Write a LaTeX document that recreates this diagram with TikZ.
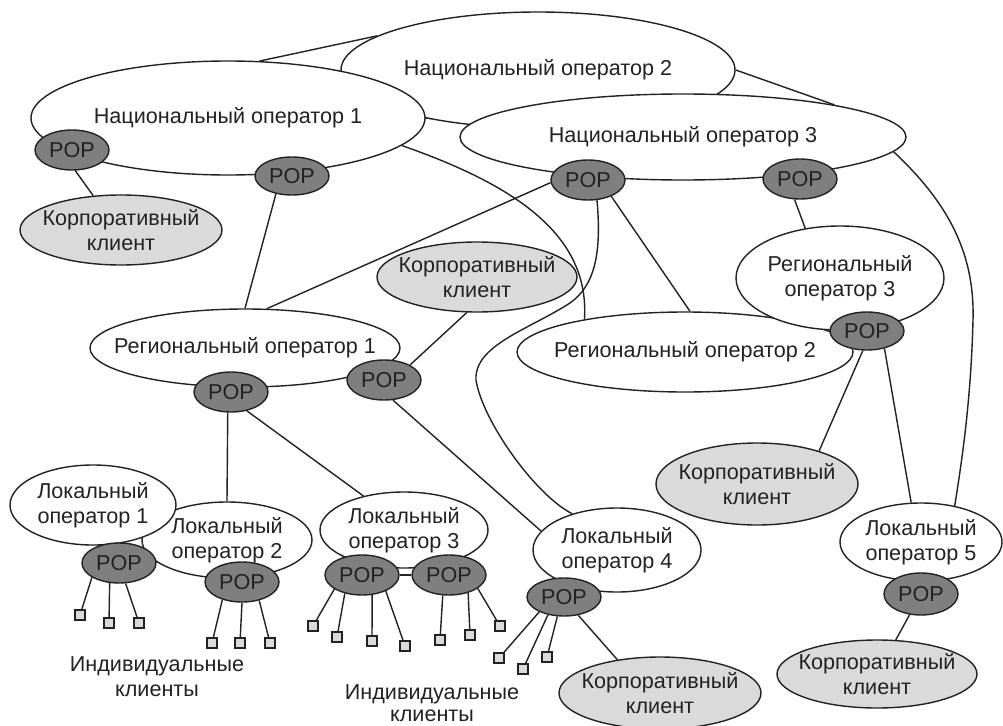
\documentclass[tikz,border=0pt]{standalone}
\usepackage{fontspec}
\setmainfont{Liberation Sans}
\usetikzlibrary{shapes.geometric,backgrounds}
\definecolor{popfill}{HTML}{7F7F7F}
\definecolor{corpfill}{HTML}{DADADA}
\definecolor{ink}{HTML}{222222}
\begin{document}
\begin{tikzpicture}[x=1pt,y=-1pt,
  font=\fontsize{21.6}{25}\selectfont,
  base/.style={ellipse, draw=ink, line width=1.4pt, inner sep=0pt, text=ink},
  op/.style={base, fill=white},
  corp/.style={base, fill=corpfill},
  pop/.style={base, fill=popfill, minimum width=74, minimum height=40},
  txt/.style={align=center, text=ink, inner sep=0pt},
  conn/.style={draw=ink, line width=1.4pt},
  sq/.style={rectangle, draw=ink, fill=corpfill, line width=1.8pt, minimum size=10, inner sep=0pt}]
\useasboundingbox (0,0) rectangle (1003,725);

% national operators
\node[op, minimum width=394, minimum height=116, label={[txt]center:Национальный оператор 2}] (no2) at (538,70) {};
\node[op, minimum width=394, minimum height=114, label={[txt]center:Национальный оператор 1}] (no1) at (228,118) {};
\node[op, minimum width=446, minimum height=86, label={[txt]center:Национальный оператор 3}] (no3) at (683,137) {};
\node[pop] (popN1a) at (72,150) {POP};
\node[pop, minimum height=38] (popN1b) at (292,176) {POP};
\node[pop] (popN3a) at (588,180) {POP};
\node[pop] (popN3b) at (800,179) {POP};
\node[corp, minimum width=202, minimum height=70, label={[txt]center:Корпоративный\\клиент}] (corp1) at (121,230) {};
\node[corp, minimum width=200, minimum height=70, label={[txt]center:Корпоративный\\клиент}] (corp2) at (477,277) {};

% regional operators
\node[op, minimum width=336, minimum height=80, label={[txt]center:Региональный оператор 2}] (r2) at (685,352) {};
\node[op, minimum width=208, minimum height=104, label={[txt]center:Региональный\\оператор 3}] (r3) at (840,278) {};
\node[op, minimum width=310, minimum height=78, label={[txt]center:Региональный оператор 1}] (r1) at (245,348) {};
\node[pop] (popR1a) at (231,392) {POP};
\node[pop] (popR1b) at (384,380) {POP};
\node[pop, minimum height=38] (popR3) at (867,331) {POP};
\node[corp, minimum width=202, minimum height=82, label={[txt]center:Корпоративный\\клиент}] (corp3) at (757,484) {};

% local operators
\node[op, minimum width=170, minimum height=76, label={[txt]center:Локальный\\оператор 2}] (l2) at (227,540) {};
\node[op, minimum width=166, minimum height=80, label={[txt]center:Локальный\\оператор 1}] (l1) at (93,505) {};
\node[op, minimum width=168, minimum height=76, label={[txt]center:Локальный\\оператор 3}] (l3) at (404,530) {};
\node[op, minimum width=168, minimum height=84, label={[txt]center:Локальный\\оператор 4}] (l4) at (617,550) {};
\node[op, minimum width=162, minimum height=78, label={[txt]center:Локальный\\оператор 5}] (l5) at (921,542) {};
\node[pop] (popL1) at (119,563) {POP};
\node[pop] (popL2) at (242,582) {POP};
\node[pop] (popL3a) at (362,575) {POP};
\node[pop] (popL3b) at (449,575) {POP};
\node[pop, minimum height=38] (popL4) at (564,597) {POP};
\node[pop, minimum height=42] (popL5) at (921,594) {POP};
\node[corp, minimum width=202, minimum height=72, label={[txt]center:Корпоративный\\клиент}] (corp4) at (660,693) {};
\node[corp, minimum width=200, minimum height=68, label={[txt]center:Корпоративный\\клиент}] (corp5) at (877,674) {};

% individual clients
\node[sq] (s11) at (80,615) {};
\node[sq] (s12) at (109,623) {};
\node[sq] (s13) at (139,623) {};
\node[sq] (s21) at (212,643) {};
\node[sq] (s22) at (240,643) {};
\node[sq] (s23) at (270,643) {};
\node[sq] (s31) at (313,626) {};
\node[sq] (s32) at (337,637) {};
\node[sq] (s33) at (372,641) {};
\node[sq] (s34) at (405,646) {};
\node[sq] (s35) at (440,640) {};
\node[sq] (s36) at (470,635) {};
\node[sq] (s37) at (500,626) {};
\node[sq] (s41) at (499,658) {};
\node[sq] (s42) at (523,669) {};
\node[sq] (s43) at (547,657) {};
\node[txt] (ind1) at (157,677) {Индивидуальные\\клиенты};
\node[txt, font=\fontsize{21.6}{22}\selectfont] (ind2) at (432,703) {Индивидуальные\\клиенты};

\begin{scope}[on background layer]
\fill[white] (0,0) rectangle (1003,725);
\draw[conn] (no1.61) -- (no2.168);
\draw[conn] (no1.east) -- (no3.176);
\draw[conn] (no2.east) -- (no3.12);
\draw[conn] (no1.351) .. controls (515,185) and (590,235) .. (r2.162);
\draw[conn] (popN3a.184) -- (r1.61);
\draw[conn] (popN3a.294) .. controls (602,255) and (594,286) .. (570,303)
   .. controls (530,329) and (474,345) .. (476,380)
   .. controls (482,420) and (535,495) .. (l4.141);
\draw[conn] (popN3a.325) -- (r2.83);
\draw[conn] (popN3b.255) -- (r3.125);
\draw[conn] (no3.356) .. controls (945,200) and (975,250) .. (973,320)
   .. controls (971,400) and (962,460) .. (l5.47);
\draw[conn] (popR3.315) -- (l5.104);
\draw[conn] (popR3.258) -- (corp3.28);
\draw[conn] (popN1b.228) -- (r1.north);
\draw[conn] (popN1a.279) -- (corp1.129);
\draw[conn] (corp2.254) -- (popR1b.30);
\draw[conn] (popR1b.294) -- (l4.166);
\draw[conn] (popR1a.261) -- (l2.north);
\draw[conn] (popR1a.310) -- (l3.140);
\draw[conn] (popL3a) -- (popL3b);
\draw[conn] (popL1.208) -- (s11);
\draw[conn] (popL1.245) -- (s12);
\draw[conn] (popL1.288) -- (s13);
\draw[conn] (popL2.222) -- (s21);
\draw[conn] (popL2.270) -- (s22);
\draw[conn] (popL2.313) -- (s23);
\draw[conn] (popL3a.207) -- (s31);
\draw[conn] (popL3a.227) -- (s32);
\draw[conn] (popL3a.297) -- (s33);
\draw[conn] (popL3a.326) -- (s34);
\draw[conn] (popL3b.253) -- (s35);
\draw[conn] (popL3b.317) -- (s36);
\draw[conn] (popL3b.335) -- (s37);
\draw[conn] (popL4.211) -- (s41);
\draw[conn] (popL4.228) -- (s42);
\draw[conn] (popL4.251) -- (s43);
\draw[conn] (popL4.308) -- (corp4.142);
\draw[conn] (popL5) -- (corp5);
\end{scope}
\end{tikzpicture}
\end{document}
